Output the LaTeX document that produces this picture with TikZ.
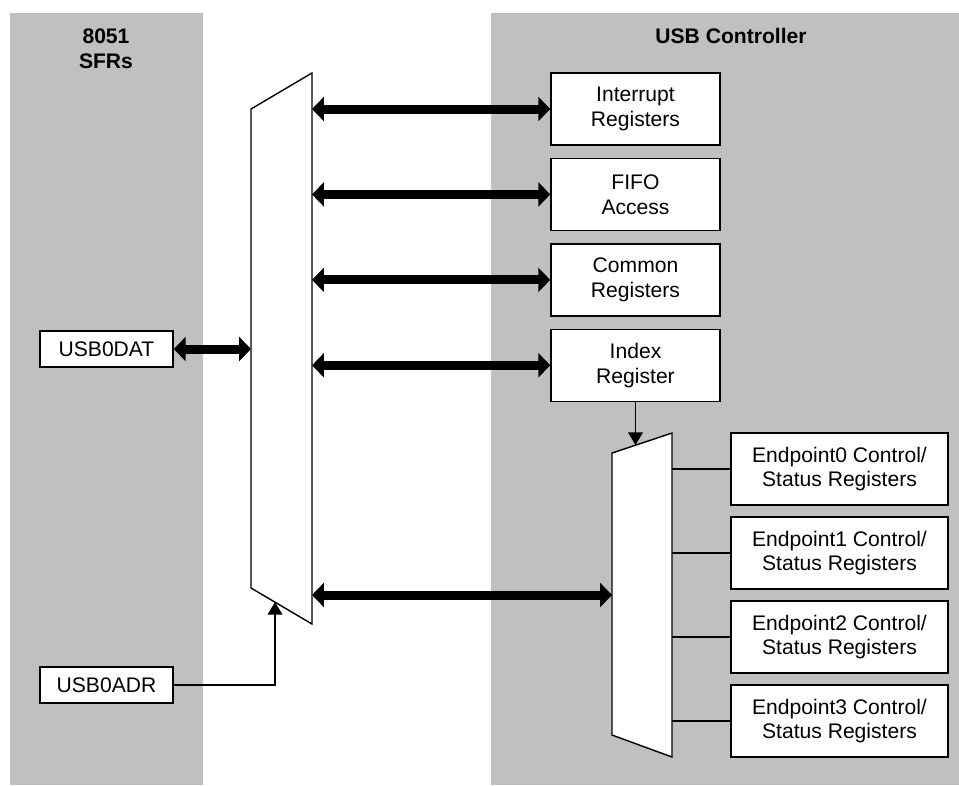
\documentclass[tikz,border=0pt]{standalone}
\usepackage{fontspec}
\setmainfont{Liberation Sans}
\usetikzlibrary{arrows.meta, positioning, calc}
\usepackage{xcolor}
\definecolor{panelgray}{RGB}{192,192,192}
\newcommand{\regfont}{\fontsize{15}{17.7}\selectfont}
\tikzset{
  panel/.style  = {fill=panelgray, draw=none},
  reg/.style    = {draw, line width=1pt, fill=white, minimum width=4.225cm,
                   minimum height=1.8cm, align=center, inner sep=0pt},
  epreg/.style  = {reg, minimum width=5.425cm},
  sfr/.style    = {reg, minimum width=3.325cm, minimum height=0.9cm},
  mux/.style    = {draw, line width=1pt, fill=white, line join=miter},
  bus/.style    = {{Triangle[length=8.5pt,width=17pt]}-{Triangle[length=8.5pt,width=17pt]},
                   line width=6.4pt},
  sig/.style    = {-{Triangle[length=9pt,width=10.5pt]}, line width=1pt},
  wire/.style   = {line width=1pt},
  title/.style  = {font=\regfont\bfseries, align=center},
}

\begin{document}
\begin{tikzpicture}[x=0.025cm, y=-0.025cm, every node/.style={font=\regfont}]
  \useasboundingbox (0,0) rectangle (959,785);
  % grey regions
  \fill[panel] (10,13) rectangle (203,785);
  \fill[panel] (491,13) rectangle (959,785);
  \node[title] (sfrtitle) at (106,49) {8051\\SFRs};
  \node[title] (usbtitle) at (731,36) {USB Controller};

  % left mux
  \coordinate (lm-tl) at (251,109);
  \coordinate (lm-tr) at (312,73);
  \coordinate (lm-br) at (312,624);
  \coordinate (lm-bl) at (251,588);
  \draw[mux] (lm-tl) -- (lm-tr) -- (lm-br) -- (lm-bl) -- cycle;
  \coordinate (lm-sel) at (275,602);
  \coordinate (lm-out) at (312,595);

  % right mux
  \coordinate (rm-tl) at (612,453);
  \coordinate (rm-tr) at (672,433);
  \coordinate (rm-br) at (672,757);
  \coordinate (rm-bl) at (612,735);
  \draw[mux] (rm-tl) -- (rm-tr) -- (rm-br) -- (rm-bl) -- cycle;
  \coordinate (rm-sel) at (636,445);

  % SFRs
  \node[sfr] (dat) at (106.5,349) {USB0DAT};
  \node[sfr] (adr) at (106.5,685) {USB0ADR};
  \draw[bus] (dat.east) -- (dat.east -| lm-tl);
  \draw[sig] (adr.east) -| (lm-sel);

  % USB registers
  \node[reg] (intr) at (635.5,109) {Interrupt\\Registers};
  \node[reg, below=0.3cm of intr] (fifo) {FIFO\\Access};
  \node[reg, below=0.3cm of fifo] (common) {Common\\Registers};
  \node[reg, below=0.3cm of common] (index) {Index\\Register};
  \foreach \r in {intr, fifo, common, index}
    \draw[bus] (\r.west -| lm-tr) -- (\r.west);
  \draw[sig] (index.south) -- (index.south |- rm-sel);
  \draw[bus] (lm-out) -- (lm-out -| rm-tl);

  % endpoint registers
  \foreach \i in {0,...,3} {
    \node[epreg] (ep\i) at (839.5,469+84*\i) {Endpoint\i{} Control/\\Status Registers};
    \draw[wire] (ep\i.west) -- (ep\i.west -| rm-tr);
  }
\end{tikzpicture}
\end{document}
